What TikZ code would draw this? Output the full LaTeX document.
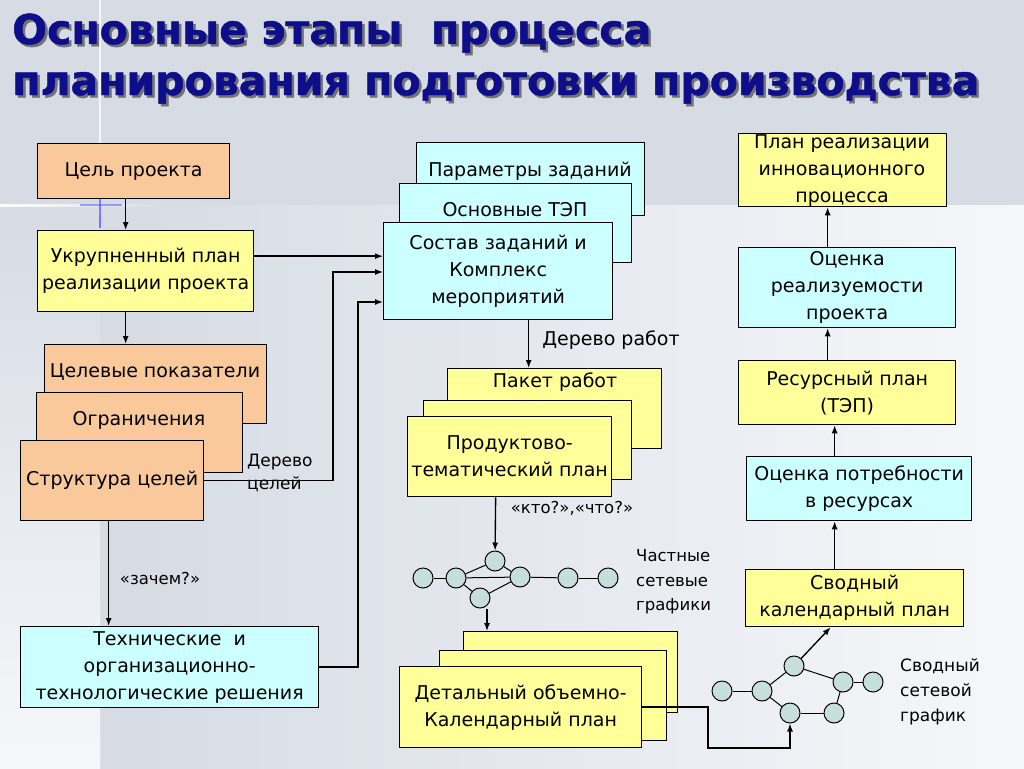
\documentclass[tikz,border=0pt]{standalone}
\usepackage{fontspec}
\setmainfont{DejaVu Sans}
\newfontfamily\titlefont[BoldFeatures={FakeBold=1.2}]{DejaVu Sans}
\usetikzlibrary{arrows.meta,calc}
\definecolor{orbox}{RGB}{250,201,155}
\definecolor{yebox}{RGB}{255,255,153}
\definecolor{cybox}{RGB}{204,255,255}
\definecolor{netc}{RGB}{198,222,220}
\definecolor{navy}{RGB}{14,14,138}
\definecolor{bgtop}{RGB}{214,219,228}
\definecolor{bgmid}{RGB}{222,226,233}
\definecolor{bglight}{RGB}{246,247,250}
\begin{document}
\begin{tikzpicture}[x=1pt,y=-1pt,
 box/.style={draw=black,line width=1.3pt,inner sep=0pt,anchor=north west,align=center,font=\fontsize{19}{27}\selectfont},
 txt/.style={inner sep=0pt,align=center,font=\fontsize{19}{27}\selectfont},
 lbl/.style={inner sep=0pt,align=left,anchor=west,font=\fontsize{17}{24}\selectfont},
 sm/.style={inner sep=0pt,font=\fontsize{16.5}{20}\selectfont},
 arr/.style={line width=1.35pt,-{Latex[length=8pt,width=6pt]}},
 edge/.style={line width=1pt},
 nd/.style={circle,draw=black,line width=1pt,fill=netc,minimum size=20pt,inner sep=0pt},
 ttl/.style={inner sep=0pt,anchor=base west,font=\fontsize{41}{41}\titlefont\bfseries}]
% background
\useasboundingbox (0,0) rectangle (1024,768);
\fill[bgtop] (0,0) rectangle (1024,768);
\shade[left color=bgtop,right color=bglight] (100,205) rectangle (1024,768);
\shade[top color=bgtop,bottom color=bglight] (0,205) rectangle (100,768);
\fill[white,opacity=0.8] (99,0) rectangle (101,215);
\shade[left color=white,right color=bgtop] (0,204) rectangle (170,206);
\draw[blue!70,line width=1.5pt,opacity=0.7] (100,192) -- (100,228);
\draw[blue!60,line width=1.2pt,opacity=0.6] (80,205) -- (122,205);
% title
\node[ttl,text=black!55] (t1s) at (14.5,46.5) {Основные этапы\ \ процесса};
\node[ttl,text=navy] (t1) at (12,44) {Основные этапы\ \ процесса};
\node[ttl,text=black!55] (t2s) at (14.5,97.5) {планирования подготовки производства};
\node[ttl,text=navy] (t2) at (12,95) {планирования подготовки производства};
% left column
\node[box,fill=orbox,minimum width=192pt,minimum height=55pt] (c1) at (37,143) {Цель проекта};
\node[box,fill=yebox,minimum width=216pt,minimum height=81pt] (c2) at (37,230) {Укрупненный план\\реализации проекта};
\node[box,fill=orbox,minimum width=222pt,minimum height=79pt] (g1) at (44,344) {};
\node[txt] (g1t) at (155,372) {Целевые показатели};
\node[box,fill=orbox,minimum width=206pt,minimum height=80pt] (g2) at (36,392) {};
\node[txt] (g2t) at (139,420) {Ограничения};
\node[box,fill=orbox,minimum width=183pt,minimum height=80pt] (g3) at (20,440) {Структура целей};
\node[box,fill=cybox,minimum width=298pt,minimum height=81pt] (t) at (20,626) {Технические\ \ и\\организационно-\\технологические решения};
% middle column
\node[box,fill=cybox,minimum width=228pt,minimum height=73pt] (p1) at (416,142) {};
\node[txt] (p1t) at (530,171) {Параметры заданий};
\node[box,fill=cybox,minimum width=232pt,minimum height=79pt] (p2) at (399,183) {};
\node[txt] (p2t) at (515,210) {Основные ТЭП};
\node[box,fill=cybox,minimum width=229pt,minimum height=97pt] (s3) at (383,222) {Состав заданий и\\Комплекс\\мероприятий};
\node[box,fill=yebox,minimum width=214pt,minimum height=80pt] (pk1) at (447,368) {};
\node[txt] (pk1t) at (555,382) {Пакет работ};
\node[box,fill=yebox,minimum width=208pt,minimum height=79pt] (pk2) at (423,400) {};
\node[box,fill=yebox,minimum width=204pt,minimum height=80pt] (p3) at (407,416) {Продуктово-\\тематический план};
\node[box,fill=yebox,minimum width=214pt,minimum height=81pt] (d1) at (463,631) {};
\node[box,fill=yebox,minimum width=227pt,minimum height=90pt] (d2) at (439,650) {};
\node[box,fill=yebox,minimum width=242pt,minimum height=81pt] (d3) at (399,666) {Детальный объемно-\\Календарный план};
% right column
\node[box,fill=yebox,minimum width=208pt,minimum height=73pt] (r1) at (738,133) {};
\node[txt] (r1t) at (842,171) {План реализации\\инновационного\\процесса};
\node[box,fill=cybox,minimum width=217pt,minimum height=80pt] (r2) at (738,247) {Оценка\\реализуемости\\проекта};
\node[box,fill=yebox,minimum width=217pt,minimum height=64pt] (r3) at (738,360) {Ресурсный план\\(ТЭП)};
\node[box,fill=cybox,minimum width=225pt,minimum height=64pt] (r4) at (746,456) {Оценка потребности\\в ресурсах};
\node[box,fill=yebox,minimum width=218pt,minimum height=57pt] (r5) at (745,569) {Сводный\\календарный план};
% partial network
\node[nd] (A) at (423,578) {};
\node[nd] (B) at (456,578) {};
\node[nd] (C) at (495,561) {};
\node[nd] (D) at (520,577) {};
\node[nd] (E) at (568,578) {};
\node[nd] (F) at (608,578) {};
\node[nd] (G) at (480,598) {};
\draw[edge] (A) -- (B); \draw[edge] (B) -- (C); \draw[edge] (B) -- (D);
\draw[edge] (B) -- (G); \draw[edge] (C) -- (D); \draw[edge] (G) -- (D);
\draw[edge] (D) -- (E); \draw[edge] (E) -- (F);
% summary network
\node[nd] (n1) at (722,691) {};
\node[nd] (n2) at (762,691) {};
\node[nd] (n3) at (794,666) {};
\node[nd] (n4) at (843,682) {};
\node[nd] (n5) at (873,682) {};
\node[nd] (n6) at (790,713) {};
\node[nd] (n7) at (834,713) {};
\draw[edge] (n1) -- (n2); \draw[edge] (n2) -- (n3); \draw[edge] (n2) -- (n6);
\draw[edge] (n3) -- (n4); \draw[edge] (n4) -- (n5); \draw[edge] (n6) -- (n7);
\draw[edge] (n7) -- (n4);
% labels
\node[sm] (zq) at (160,578) {«зачем?»};
\node[lbl,font=\fontsize{17}{23}\selectfont] (dc) at (247,473) {Дерево\\целей};
\node[txt] (dr) at (611,340) {Дерево работ};
\node[sm] (kto) at (572,508) {«кто?»,«что?»};
\node[lbl,font=\fontsize{16.5}{24.5}\selectfont] (ch) at (636,582) {Частные\\сетевые\\графики};
\node[lbl,font=\fontsize{17}{25}\selectfont] (sg) at (900,692) {Сводный\\сетевой\\график};
% connectors
\coordinate (k1) at (333,272);
\coordinate (k2) at (358,302);
\coordinate (k3) at (708,748);
\draw[arr] ([xshift=-8pt]c1.south) -- ([xshift=-8pt]c1.south |- c2.north);
\draw[arr] ([xshift=-20pt]c2.south) -- ([xshift=-20pt]c2.south |- g1.north);
\draw[arr] ([yshift=15pt]c2.east) -- ([yshift=15pt]c2.east -| s3.west);
\draw[arr] (g3.east) -| (k1) -- (k1 -| s3.west);
\draw[arr] (t.east) -| (k2) -- (k2 -| s3.west);
\draw[arr] ([xshift=-3.5pt]g3.south) -- ([xshift=-3.5pt]g3.south |- t.north);
\draw[arr] ([xshift=30.5pt]s3.south) -- ([xshift=30.5pt]s3.south |- pk1.north);
\draw[arr] ([xshift=-14pt]p3.south) -- (C);
\draw[arr] ([xshift=7pt]G.south) -- ([xshift=7pt]G.south |- d1.north);
\draw[arr] (d3.east) -| (k3) -| (n6.south);
\draw[arr] (n3) -- ([xshift=-24pt]r5.south);
\draw[arr] ([xshift=-19.5pt]r2.north) -- ([xshift=-19.5pt]r2.north |- r1.south);
\draw[arr] ([xshift=-19.5pt]r3.north) -- ([xshift=-19.5pt]r3.north |- r2.south);
\draw[arr] ([xshift=-24.5pt]r4.north) -- ([xshift=-24.5pt]r4.north |- r3.south);
\draw[arr] ([xshift=-20pt]r5.north) -- ([xshift=-20pt]r5.north |- r4.south);
\end{tikzpicture}
\end{document}
